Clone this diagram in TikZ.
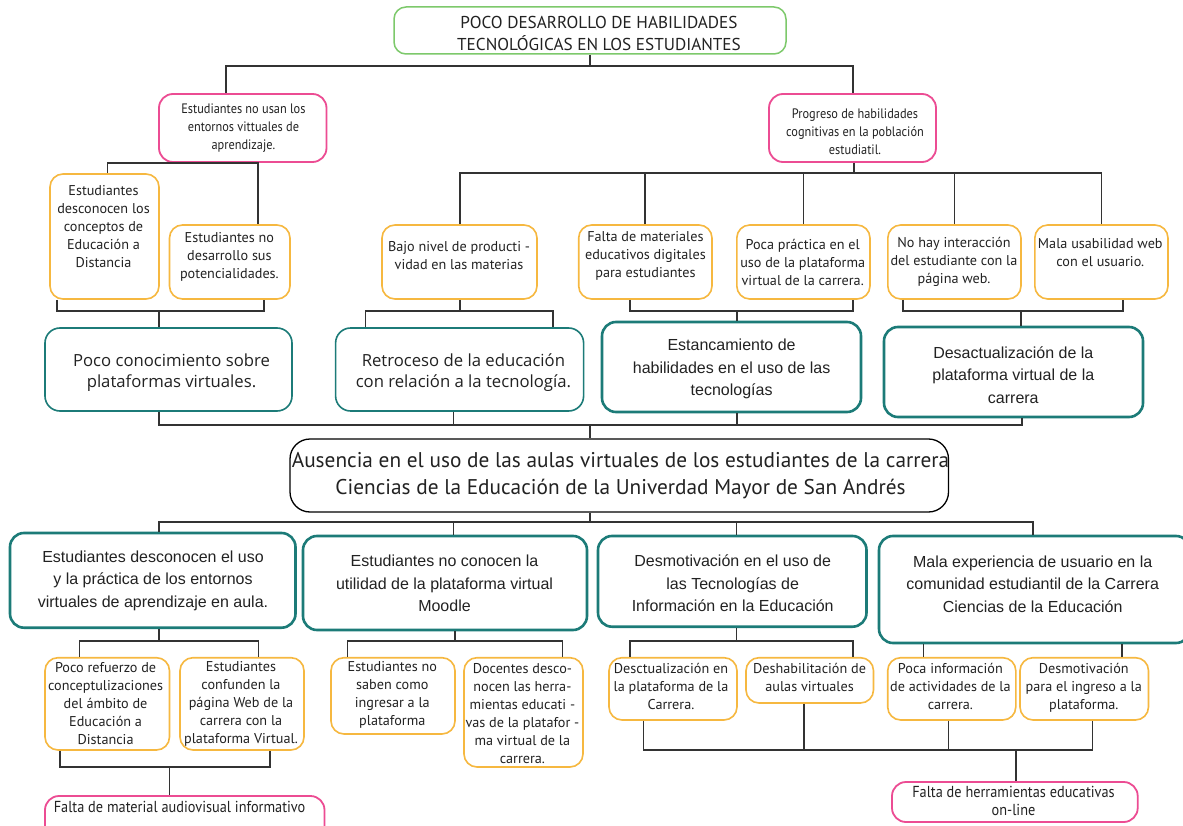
\documentclass[tikz,border=0pt]{standalone}
\usepackage{fontspec}
\setmainfont{PT Sans}
\newfontfamily\myr{PT Sans}
\newfontfamily\myc[FakeStretch=0.9]{PT Sans}
\newfontfamily\ari{Liberation Sans}
\newfontfamily\seg{Open Sans}
\usetikzlibrary{fit}
\definecolor{cgreen}{HTML}{7DC96B}
\definecolor{cpink}{HTML}{EC4C93}
\definecolor{corange}{HTML}{F6B840}
\definecolor{cteal}{HTML}{1C7B78}
\definecolor{cline}{HTML}{333333}
\definecolor{ctext}{HTML}{222222}
\begin{document}
\begin{tikzpicture}[x=1pt,y=-1pt,
  gbox/.style={draw=cgreen, line width=1.5pt, rounded corners=12pt, inner sep=0pt},
  pbox/.style={draw=cpink, line width=1.8pt, rounded corners=14pt, inner sep=0pt},
  obox/.style={draw=corange, line width=1.6pt, rounded corners=13pt, inner sep=0pt},
  tbox/.style={draw=cteal, line width=1.6pt, rounded corners=15pt, inner sep=0pt},
  tboxb/.style={draw=cteal, line width=2.6pt, rounded corners=14pt, inner sep=0pt},
  mbox/.style={draw=black, line width=1.3pt, rounded corners=20pt, inner sep=0pt},
  conn/.style={draw=cline, line width=1.5pt},
  txt/.style={align=center, text=ctext, inner sep=0pt},
  ttl/.style={txt, font=\myr\fontsize{17.2}{22}\selectfont},
  ptx/.style={txt, font=\myc\fontsize{13.7}{18}\selectfont},
  pbtx/.style={txt, font=\myc\fontsize{15.9}{18}\selectfont},
  otx/.style={txt, font=\myr\fontsize{14.2}{18}\selectfont},
  stx/.style={txt, font=\seg\fontsize{16.7}{21}\selectfont},
  atx/.style={txt, font=\ari\fontsize{16}{22.5}\selectfont},
  mtx/.style={txt, font=\myr\fontsize{21.3}{27}\selectfont}]
\fill[white] (0,0) rectangle (1183,826);
\useasboundingbox (0,0) rectangle (1183,826);

% ---------- boxes ----------
\node[gbox, fit={(394,7)(786,54)}] (title) {};
\node[pbox, fit={(159,94)(326.5,162)}] (p1) {};
\node[pbox, fit={(769,94)(936,162)}] (p2) {};
\node[obox, fit={(50,174)(159,299)}] (a1) {};
\node[obox, fit={(169.5,225)(290,299)}] (a2) {};
\node[obox, fit={(382,225)(537,299)}] (b1) {};
\node[obox, fit={(578.7,225)(712,299)}] (c1) {};
\node[obox, fit={(736.8,225)(870,299)}] (c2) {};
\node[obox, fit={(887.8,225)(1021,299)}] (c3) {};
\node[obox, fit={(1034.8,225)(1168,299)}] (c4) {};
\node[tbox, fit={(45,328)(292,411)}] (t1) {};
\node[tbox, fit={(335.6,328)(583.6,411)}] (t2) {};
\node[tboxb, fit={(602,322)(861,412)}] (t3) {};
\node[tboxb, fit={(884,327)(1143,417)}] (t4) {};
\node[mbox, fit={(290,439)(948.5,512)}] (main) {};
\node[tboxb, fit={(10,533)(295.5,627.7)}] (d1) {};
\node[tboxb, fit={(303,536)(587,630)}] (d2) {};
\node[tboxb, fit={(598,536)(866.5,626.7)}] (d3) {};
\node[tboxb, fit={(879,536)(1190,643)}] (d4) {};
\node[obox, fit={(45,657.7)(169.5,750)}] (e1) {};
\node[obox, fit={(180,657.7)(304,750)}] (e2) {};
\node[obox, fit={(331,657.7)(455,734)}] (g1) {};
\node[obox, fit={(464,657.7)(583,767)}] (g2) {};
\node[obox, fit={(609,657.7)(737,720)}] (h1) {};
\node[obox, fit={(746,657.7)(873.5,703)}] (h2) {};
\node[obox, fit={(887.7,657.7)(1015.8,720)}] (i1) {};
\node[obox, fit={(1020,657.7)(1148.5,720)}] (i2) {};
\node[pbox, fit={(45,796)(324.5,850)}] (f1) {};
\node[pbox, fit={(892,782)(1137.7,822)}] (j1) {};

% ---------- texts ----------
\node[ttl] (titlet) at (599,33) {POCO DESARROLLO DE HABILIDADES\\TECNOLÓGICAS EN LOS ESTUDIANTES};
\node[ptx] (p1t) at (243.4,128) {Estudiantes no usan los\\entornos vittuales de\\aprendizaje.};
\node[ptx] (p2t) at (855,132) {Progreso de habilidades\\cognitivas en la población\\estudiatil.};
\node[otx] (a1t) at (103.5,227) {Estudiantes\\desconocen los\\conceptos de\\Educación a\\Distancia};
\node[otx] (a2t) at (229.4,257) {Estudiantes no\\desarrollo sus\\potencialidades.};
\node[otx] (b1t) at (459,256) {Bajo nivel de producti -\\vidad en las materias};
\node[otx] (c1t) at (645.4,256) {Falta de materiales\\educativos digitales\\para estudiantes};
\node[otx] (c2t) at (802.7,262) {Poca práctica en el\\uso de la plataforma\\virtual de la carrera.};
\node[otx] (c3t) at (954,262) {No hay interacción\\del estudiante con la\\página web.};
\node[otx] (c4t) at (1100.3,253) {Mala usabilidad web\\con el usuario.};
\node[stx] (t1t) at (171.5,372.5) {Poco conocimiento sobre\\plataformas virtuales.};
\node[stx] (t2t) at (463.4,372.5) {Retroceso de la educación\\con relación a la tecnología.};
\node[atx] (t3t) at (731.6,369) {Estancamiento de\\habilidades en el uso de las\\tecnologías};
\node[atx] (t4t) at (1013.3,375) {Desactualización de la\\plataforma virtual de la\\carrera};
\node[mtx] (maint) at (620.5,475.5) {Ausencia en el uso de las aulas virtuales de los estudiantes de la carrera\\Ciencias de la Educación de la Univerdad Mayor de San Andrés};
\node[atx] (d1t) at (153,580.7) {Estudiantes desconocen el uso\\y la práctica de los entornos\\virtuales de aprendizaje en aula.};
\node[atx] (d2t) at (444.5,583.5) {Estudiantes no conocen la\\utilidad de la plataforma virtual\\Moodle};
\node[atx] (d3t) at (732.7,583.5) {Desmotivación en el uso de\\las Tecnologías de\\Información en la Educación};
\node[atx] (d4t) at (1032.7,584) {Mala experiencia de usuario en la\\comunidad estudiantil de la Carrera\\Ciencias de la Educación};
\node[otx] (e1t) at (105.6,704) {Poco refuerzo de\\conceptulizaciones\\del ámbito de\\Educación a\\Distancia};
\node[otx] (e2t) at (241,704) {Estudiantes\\confunden la\\página Web de la\\carrera con la\\plataforma Virtual.};
\node[otx] (g1t) at (392.3,695.3) {Estudiantes no\\saben como\\ingresar a la\\plataforma};
\node[otx] (g2t) at (522.4,713.3) {Docentes desco-\\nocen las herra-\\mientas educati -\\vas de la platafor -\\ma virtual de la\\carrera.};
\node[otx] (h1t) at (671,686.7) {Desctualización en\\la plataforma de la\\Carrera.};
\node[otx] (h2t) at (809.6,677.5) {Deshabilitación de\\aulas virtuales};
\node[otx] (i1t) at (950.4,686.5) {Poca información\\de actividades de la\\carrera.};
\node[otx] (i2t) at (1083.8,687.5) {Desmotivación\\para el ingreso a la\\plataforma.};
\node[pbtx, anchor=west] (f1t) at (53.6,806.7) {Falta de material audiovisual informativo};
\node[pbtx] (j1t) at (1013.5,801) {Falta de herramientas educativas\\on-line};

% ---------- connectors ----------
\coordinate (j0) at (590,66);
\draw[conn] (title.south) -- (j0);
\draw[conn] (226,0 |- p1.north) |- (j0) -| (853,0 |- p2.north);
\draw[conn] (107.5,0 |- a1.north) |- (258,0 |- p1.south) -- (258,0 |- a2.north);
\coordinate (ja) at (159,311);
\draw[conn] (57,0 |- a1.south) |- (ja) -| (264,0 |- a2.south);
\draw[conn] (ja) -- (ja |- t1.north);
\coordinate (jp) at (854,173);
\draw[conn] (854,0 |- p2.south) -- (jp);
\draw[conn] (460,0 |- b1.north) |- (jp) -| (1101.5,0 |- c4.north);
\draw[conn] (645,0 |- c1.north) -- (645,0 |- jp);
\draw[conn] (803.5,0 |- c2.north) -- (803.5,0 |- jp);
\draw[conn] (954.5,0 |- c3.north) -- (954.5,0 |- jp);
\coordinate (jb) at (460,311);
\draw[conn] (460,0 |- b1.south) -- (jb);
\draw[conn] (365.5,0 |- t2.north) |- (jb) -| (553,0 |- t2.north);
\coordinate (jc) at (737,311);
\draw[conn] (630,0 |- c1.south) |- (jc) -| (853,0 |- c2.south);
\draw[conn] (jc) -- (jc |- t3.north);
\coordinate (jd) at (1021,311);
\draw[conn] (903,0 |- c3.south) |- (jd) -| (1123,0 |- c4.south);
\draw[conn] (jd) -- (jd |- t4.north);
\coordinate (jm) at (590,425);
\draw[conn] (159,0 |- t1.south) |- (jm) -| (1022,0 |- t4.south);
\draw[conn] (453.5,0 |- t2.south) -- (453.5,0 |- jm);
\draw[conn] (737,0 |- t3.south) -- (737,0 |- jm);
\draw[conn] (jm) -- (jm |- main.north);
\coordinate (jn) at (590,522);
\draw[conn] (590,0 |- main.south) -- (jn);
\draw[conn] (159,0 |- d1.north) |- (jn) -| (1033,0 |- d4.north);
\draw[conn] (453.5,0 |- d2.north) -- (453.5,0 |- jn);
\draw[conn] (736.5,0 |- d3.north) -- (736.5,0 |- jn);
\coordinate (je) at (159,641);
\draw[conn] (159,0 |- d1.south) -- (je);
\draw[conn] (79.6,0 |- e1.north) |- (je) -| (258.7,0 |- e2.north);
\coordinate (jf) at (169.5,767);
\draw[conn] (60,0 |- e1.south) |- (jf) -| (270,0 |- e2.south);
\draw[conn] (jf) -- (jf |- f1.north);
\coordinate (jg) at (455,641);
\draw[conn] (455,0 |- d2.south) -- (jg);
\draw[conn] (347.5,0 |- g1.north) |- (jg) -| (562.6,0 |- g2.north);
\coordinate (jh) at (736.5,641);
\draw[conn] (736.5,0 |- d3.south) -- (jh);
\draw[conn] (630,0 |- h1.north) |- (jh) -| (853,0 |- h2.north);
\draw[conn] (923.5,0 |- d4.south) -- (923.5,0 |- i1.north);
\draw[conn] (1122,0 |- d4.south) -- (1122,0 |- i2.north);
\coordinate (jj) at (1016,750);
\draw[conn] (643.5,0 |- h1.south) |- (jj) -| (1092.7,0 |- i2.south);
\draw[conn] (804,0 |- h2.south) -- (804,0 |- jj);
\draw[conn] (948.5,0 |- i1.south) -- (948.5,0 |- jj);
\draw[conn] (jj) -- (jj |- j1.north);
\end{tikzpicture}
\end{document}
